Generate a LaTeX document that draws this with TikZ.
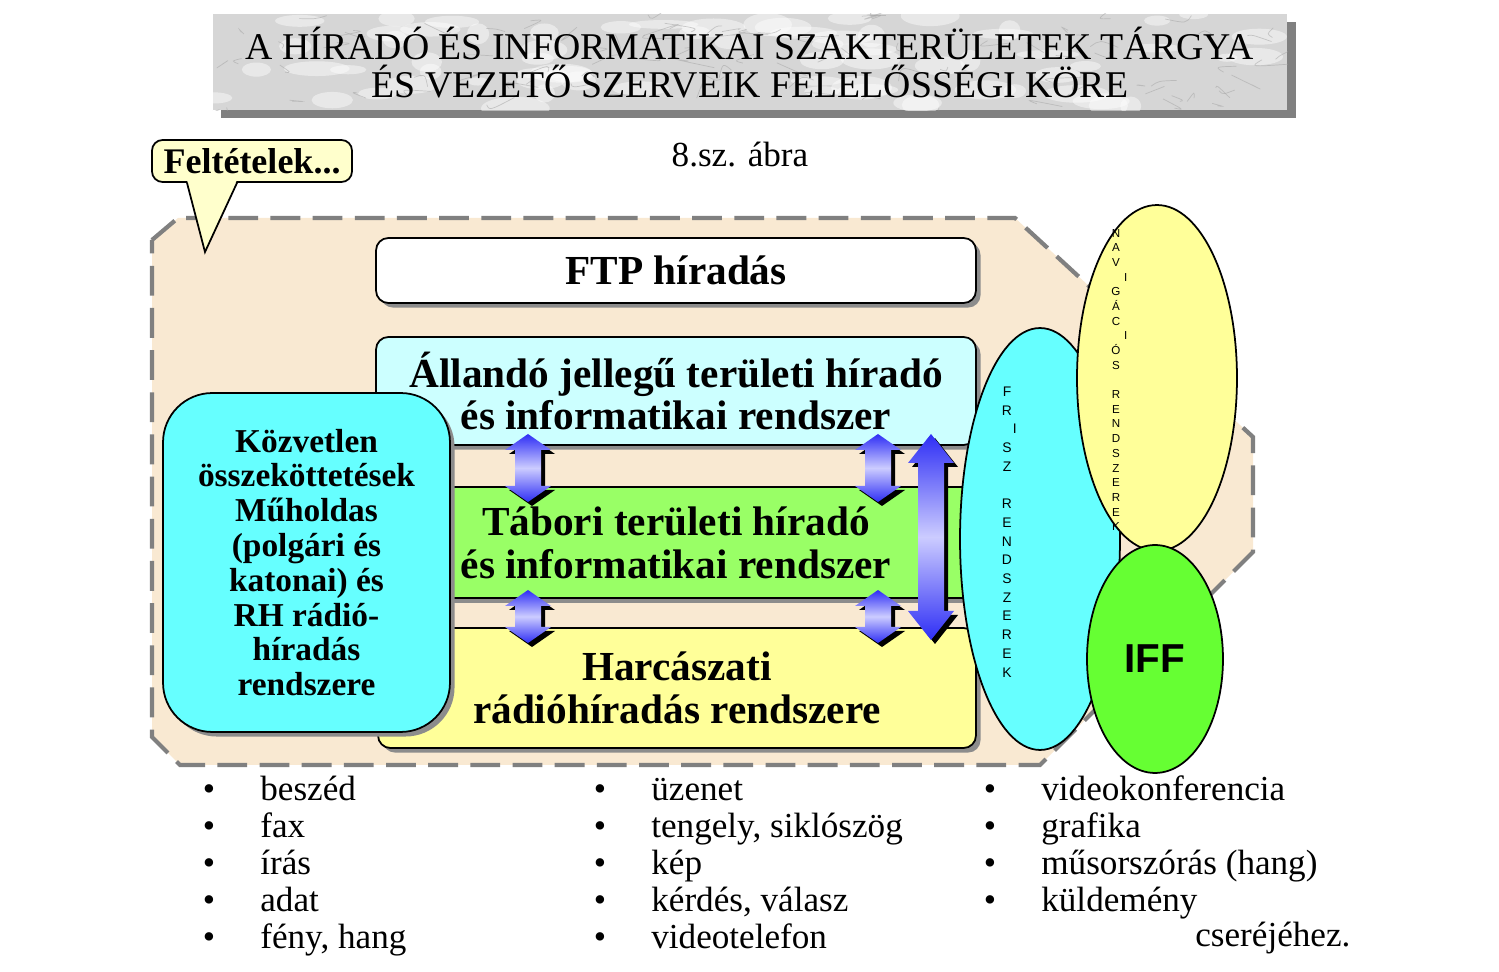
\documentclass[tikz,border=0pt]{standalone}
\usepackage{fontspec}
\setmainfont{Liberation Serif}
\setsansfont{Liberation Sans}
\usetikzlibrary{calc,shapes.geometric,shadows}

\definecolor{parchment}{HTML}{F9E9D2}
\definecolor{marble}{HTML}{D6D6D6}
\definecolor{dashgray}{HTML}{808080}
\definecolor{lightcyan}{HTML}{CCFFFF}
\definecolor{fieldgreen}{HTML}{99FF66}
\definecolor{paleyellow}{HTML}{FFFF99}
\definecolor{aqua}{HTML}{66FFFF}
\definecolor{iffgreen}{HTML}{66FF33}
\definecolor{notefill}{HTML}{FFFFCC}
\definecolor{arrowblue}{HTML}{2E2EF5}
\definecolor{arrowpale}{HTML}{CCCCFF}

% block double arrow: length, head length (picture units)
\tikzset{
  pics/dblarrow/.style 2 args={code={
    \fill[black] (4,4) -- (27,{4+#2}) -- (17,{4+#2}) -- (17,{4+#1-#2}) -- (27,{4+#1-#2})
      -- (4,{4+#1}) -- (-19,{4+#1-#2}) -- (-9,{4+#1-#2}) -- (-9,{4+#2}) -- (-19,{4+#2}) -- cycle;
    \shade[top color=arrowblue, bottom color=arrowblue, middle color=arrowpale]
      (0,0) -- (23,#2) -- (13,#2) -- (13,{#1-#2}) -- (23,{#1-#2})
      -- (0,#1) -- (-23,{#1-#2}) -- (-13,{#1-#2}) -- (-13,#2) -- (-23,#2) -- cycle;
  }}
}

\begin{document}
\begin{tikzpicture}[
  x=0.02cm, y=-0.02cm,
  font=\fontsize{20}{21}\selectfont,
  panel/.style={draw, line width=1pt, rounded corners=7pt, inner sep=0pt, align=center,
                font=\fontsize{23.5}{24.4}\selectfont\bfseries,
                drop shadow={shadow xshift=2.6pt, shadow yshift=-2.6pt, opacity=1, fill=black!45}},
  band/.style={panel, rounded corners=0pt},
  titlebox/.style={inner sep=0pt, fill=marble, minimum width=21.5cm, minimum height=1.92cm,
                   drop shadow={shadow xshift=5pt, shadow yshift=-4.5pt, opacity=1, fill=black!50}},
  titletext/.style={align=center, inner sep=0pt, font=\fontsize{21.5}{21.6}\selectfont},
  note/.style={draw, line width=1pt, fill=notefill, rounded corners=6pt,
               minimum width=4cm, minimum height=0.84cm, inner sep=0pt,
               font=\fontsize{20.5}{21}\selectfont\bfseries},
  oval/.style={ellipse, draw, line width=1pt, inner sep=0pt},
  vletters/.style={align=center, inner sep=0pt, font=\sffamily\fontsize{7.9}{10.65}\selectfont},
  sletters/.style={align=center, inner sep=0pt, font=\sffamily\fontsize{6.6}{8.35}\selectfont},
  outline/.style={draw=dashgray, fill=parchment, line width=2.4pt,
                  dash pattern=on 17pt off 7pt},
  dot/.style={anchor=base, inner sep=0pt},
  item/.style={anchor=base west, inner sep=0pt},
]
  \useasboundingbox (0,0) rectangle (1499,972);
  \fill[white] (0,0) rectangle (1499,972);

  % ----- Title -----
  \node[titlebox] (title) at (750,62) {};
  \begin{scope}
    \clip (title.south west) rectangle (title.north east);
    \pgfmathsetseed{11}
    \foreach \k in {1,...,70} {
      \pgfmathsetmacro\xa{213+1075*rnd}
      \pgfmathsetmacro\ya{14+96*rnd}
      \fill[white, opacity=0.45] (\xa,\ya) ellipse ({10+25*rnd} and {4+8*rnd});
    }
    \foreach \k in {1,...,90} {
      \pgfmathsetmacro\xa{213+1075*rnd}
      \pgfmathsetmacro\ya{14+96*rnd}
      \draw[gray!70, line width=0.4pt, opacity=0.55]
        (\xa,\ya) .. controls ++({-20+40*rnd},{-8+16*rnd}) .. ++({-30+60*rnd},{-10+20*rnd});
    }
  \end{scope}
  \node[titletext] (titletxt) at (750,63)
    {A HÍRADÓ ÉS INFORMATIKAI SZAKTERÜLETEK TÁRGYA\\ÉS VEZETŐ SZERVEIK FELELŐSSÉGI KÖRE};
  \node (figno) at (740,155) {8.sz. ábra};

  % ----- Dashed field -----
  \draw[outline] (152,240) -- (178,218) -- (1015,218) -- (1253,437) -- (1253,552)
    -- (1040,765) -- (180,765) -- (152,737) -- cycle;

  % Callout
  \node[note] (felt) at (252,161) {Feltételek...};
  \coordinate (tip) at (205,252);
  \fill[notefill] ($(felt.south)+(-65,-3)$) -- (tip) -- ($(felt.south)+(-15,-3)$) -- cycle;
  \draw[line width=1pt] ($(felt.south)+(-65,0)$) -- (tip) -- ($(felt.south)+(-15,0)$);

  % ----- Layers -----
  \node[panel, fill=white, minimum width=12cm, minimum height=1.3cm] (ftp) at (676,270.5)
    {FTP híradás};
  \node[panel, fill=lightcyan, minimum width=12cm, minimum height=2.16cm] (allando) at (676,391)
    {Állandó jellegű területi híradó\\és informatikai rendszer};
  \node[band, fill=fieldgreen, minimum width=12cm, minimum height=2.22cm] (tabori) at (676,542.5)
    {Tábori területi híradó\\és informatikai rendszer};
  \node[panel, fill=paleyellow, minimum width=11.96cm, minimum height=2.4cm] (harcaszati) at (677,688)
    {Harcászati\\rádióhíradás rendszere};

  % arrows between layers
  \pic at (528,434) {dblarrow={68}{16}};
  \pic at (878,434) {dblarrow={68}{16}};
  \pic at (528,590) {dblarrow={53}{16}};
  \pic at (878,590) {dblarrow={53}{16}};
  \pic at (931,434) {dblarrow={206}{29}};

  \node[panel, fill=aqua, rounded corners=28pt, font=\fontsize{19}{19.8}\selectfont\bfseries,
        minimum width=5.74cm, minimum height=6.78cm] (kozvetlen) at (306.5,562.5)
    {Közvetlen\\összeköttetések\\Műholdas\\(polgári és\\katonai) és\\RH rádió-\\híradás\\rendszere};

  % ----- Side systems -----
  \node[oval, fill=aqua, minimum width=3.2cm, minimum height=8.44cm] (frisz) at (1040,539) {};
  \node[vletters] (frisztxt) at (1007,532)
    {F\\R\\\hspace*{9pt}I\\S\\Z\\~\\R\\E\\N\\D\\S\\Z\\E\\R\\E\\K};
  \node[oval, fill=paleyellow, minimum width=3.2cm, minimum height=6.92cm] (navig) at (1157,378) {};
  \node[sletters] (navigtxt) at (1116,380)
    {N\\A\\V\\\hspace*{11pt}I\\G\\Á\\C\\\hspace*{11pt}I\\Ó\\S\\~\\R\\E\\N\\D\\S\\Z\\E\\R\\E\\K};
  \node[oval, fill=iffgreen, minimum width=2.72cm, minimum height=4.56cm,
        font=\sffamily\bfseries\fontsize{23}{25}\selectfont] (iff) at (1155,659) {IFF};

  % ----- Services -----
  \foreach \txt [count=\i] in {beszéd, fax, írás, adat, {fény, hang}} {
    \node[dot] (dotA\i) at (209,{764+37*\i}) {\textbullet};
    \node[item] (itemA\i) at (260,{764+37*\i}) {\txt};
  }
  \foreach \txt [count=\i] in {üzenet, {tengely, siklószög}, kép, {kérdés, válasz}, videotelefon} {
    \node[dot] (dotB\i) at (600,{764+37*\i}) {\textbullet};
    \node[item] (itemB\i) at (651,{764+37*\i}) {\txt};
  }
  \foreach \txt [count=\i] in {videokonferencia, grafika, műsorszórás (hang), küldemény} {
    \node[dot] (dotC\i) at (990,{764+37*\i}) {\textbullet};
    \node[item] (itemC\i) at (1041,{764+37*\i}) {\txt};
  }
  \node[item] (csere) at (1195,947) {cseréjéhez.};
\end{tikzpicture}
\end{document}
